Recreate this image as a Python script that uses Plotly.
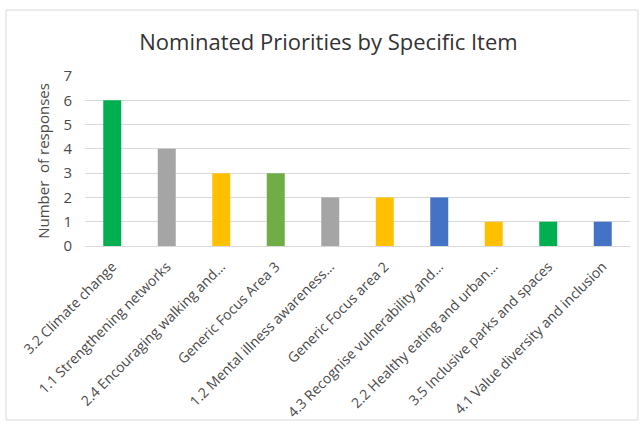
import plotly.graph_objects as go

# Survey results: nominated priorities per specific item
items = [
    "3.2 Climate change",
    "1.1 Strengthening networks",
    "2.4 Encouraging walking and...",
    "Generic Focus Area 3",
    "1.2 Mental illness awareness...",
    "Generic Focus area 2",
    "4.3 Recognise vulnerability and...",
    "2.2 Healthy eating and urban...",
    "3.5 Inclusive parks and spaces",
    "4.1 Value diversity and inclusion",
]
responses = [6, 4, 3, 3, 2, 2, 2, 1, 1, 1]
bar_colors = [
    "#00B050", "#A5A5A5", "#FFC000", "#70AD47", "#A5A5A5",
    "#FFC000", "#4472C4", "#FFC000", "#00B050", "#4472C4",
]
y_ticks = [0, 1, 2, 3, 4, 5, 6, 7]

W, H = 644, 428
ML, MR, MT, MB = 85, 14, 76, 182
FONT = "Open Sans"
TEXT_GREY = "#4a4a4a"

fig = go.Figure(
    go.Bar(
        x=items,
        y=responses,
        marker=dict(color=bar_colors, line=dict(width=0)),
        hoverinfo="x+y",
    )
)

pw = W - ML - MR
ph = H - MT - MB


def px_to_paper_x(px):
    return (px - ML) / pw


def px_to_paper_y(py):
    return (H - MB - py) / ph


fig.update_layout(
    width=W,
    height=H,
    autosize=False,
    margin=dict(l=ML, r=MR, t=MT, b=MB, pad=0, autoexpand=False),
    paper_bgcolor="white",
    plot_bgcolor="white",
    bargap=0.67,
    showlegend=False,
    title=dict(
        text="Nominated Priorities by Specific Item",
        x=0.51,
        xref="container",
        xanchor="center",
        y=1 - 42 / H,
        yref="container",
        yanchor="middle",
        font=dict(family=FONT, size=22, color="#333333"),
    ),
    font=dict(family=FONT, color=TEXT_GREY),
    xaxis=dict(
        automargin=False,
        tickangle=-45,
        tickfont=dict(family=FONT, size=14, color=TEXT_GREY),
        showgrid=False,
        showline=True,
        linecolor="#D9D9D9",
        linewidth=1,
        ticks="",
        ticklabelstandoff=6,
    ),
    yaxis=dict(
        automargin=False,
        range=[0, 7],
        tickvals=y_ticks,
        tickfont=dict(family=FONT, size=15, color=TEXT_GREY),
        showgrid=True,
        gridcolor="#D9D9D9",
        gridwidth=1,
        zeroline=False,
        showline=False,
        ticks="",
        ticklabelstandoff=12,
        title=dict(
            text="Number  of responses",
            font=dict(family=FONT, size=15, color=TEXT_GREY),
            standoff=10,
        ),
    ),
    shapes=[
        dict(
            type="rect",
            xref="paper",
            yref="paper",
            x0=px_to_paper_x(6),
            x1=px_to_paper_x(638),
            y0=px_to_paper_y(420),
            y1=px_to_paper_y(10),
            line=dict(color="#D9D9D9", width=1),
            fillcolor="rgba(0,0,0,0)",
            layer="below",
        )
    ],
)

fig.write_html("out.html")
